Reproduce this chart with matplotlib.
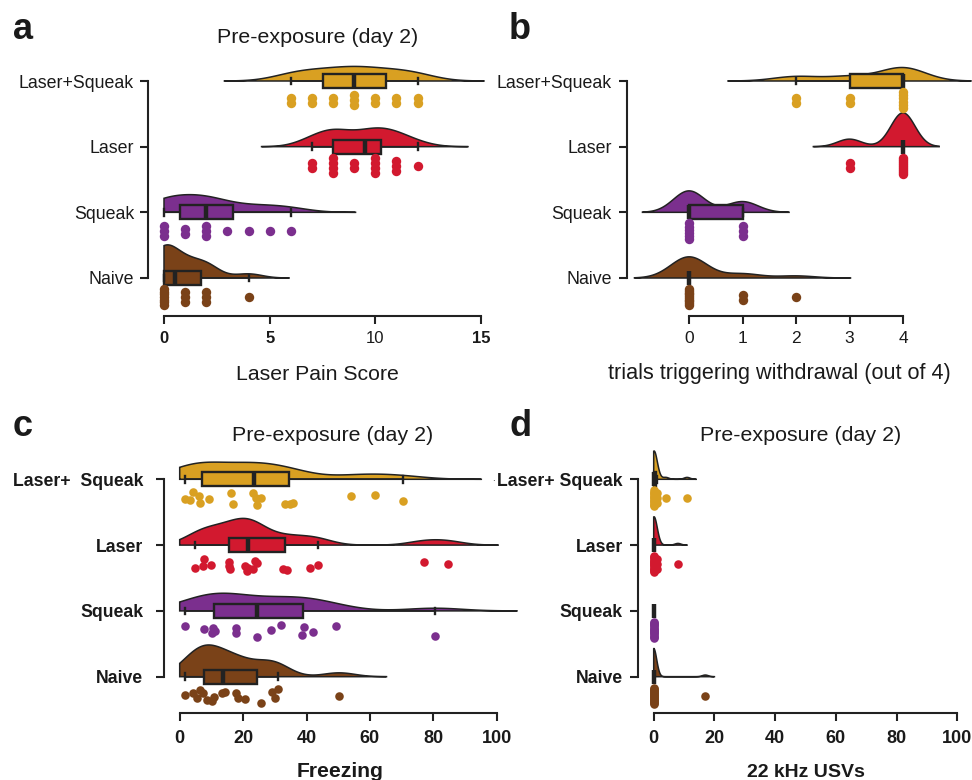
import numpy as np
import matplotlib.pyplot as plt

plt.rcParams['font.family'] = ['Liberation Sans', 'DejaVu Sans']

W, H = 972, 780
EDGE = '#222222'
INK = '#1a1a1a'

# groups bottom -> top
LABELS_AB = ['Naive', 'Squeak', 'Laser', 'Laser+Squeak']
LABELS_C = ['Naive', 'Squeak', 'Laser', 'Laser+  Squeak']
LABELS_D = ['Naive', 'Squeak', 'Laser', 'Laser+ Squeak']
COLORS = ['#7a4218', '#7b2f8e', '#d2192f', '#d9a022']

# a: laser pain score
pain_naive = [0, 0, 0, 0, 0, 0, 0, 1, 1, 1, 2, 2, 2, 4]
pain_squeak = [0, 0, 0, 1, 1, 2, 2, 2, 3, 4, 5, 6]
pain_laser = [7, 7, 8, 8, 8, 8, 9, 9, 10, 10, 10, 10, 11, 11, 11, 12]
pain_ls = [6, 6, 7, 7, 8, 8, 9, 9, 9, 10, 10, 11, 11, 12, 12]

# b: trials triggering withdrawal (out of 4)
wd_naive = [0, 0, 0, 0, 0, 0, 0, 0, 0, 0, 1, 1, 2]
wd_squeak = [0, 0, 0, 0, 0, 0, 1, 1, 1]
wd_laser = [3, 3, 4, 4, 4, 4, 4, 4, 4, 4, 4]
wd_ls = [2, 2, 3, 3, 4, 4, 4, 4, 4, 4]

# c: freezing (%)
frz_naive = [1.7, 4.3, 5.4, 6.4, 7.5, 8.5, 10.1, 10.8, 13.2, 14.3, 17.7, 18.5,
             20.6, 25.5, 29.0, 31.1, 30.1, 50.3]
frz_squeak = [1.7, 7.7, 10.1, 10.5, 11.2, 17.7, 17.8, 24.3, 28.8, 31.9, 39.2,
              38.6, 42.2, 49.3, 80.6]
frz_laser = [4.8, 7.8, 7.5, 9.8, 15.5, 15.8, 15.4, 21.1, 20.6, 21.4, 23.8, 24.3,
             23.2, 32.7, 33.9, 41.1, 43.7, 77.0, 84.5]
frz_ls = [1.7, 4.3, 3.4, 6.2, 6.4, 9.4, 16.1, 16.7, 23.0, 24.5, 25.5, 24.1,
          33.2, 34.8, 35.6, 53.9, 61.5, 70.5]

# vertical jitter of the freezing dots (px below the group line)
jit_naive = [18.3, 16.7, 21.7, 13.3, 16, 23.3, 24, 20.7, 16.7, 15, 16.7, 21.7,
             22.7, 26, 15, 12.7, 21.7, 19]
jit_squeak = [15, 18.3, 21.7, 17.3, 20, 17.3, 21.7, 25.7, 19, 14, 16.3, 24, 21,
              14.7, 24.7]
jit_laser = [22.7, 13.7, 21, 20, 17, 24.3, 21, 26, 21, 22.7, 16, 17.7, 23.7,
             24.3, 25, 23.3, 20, 17.3, 19.3]
jit_ls = [19.7, 13, 20.7, 16.3, 24, 20, 13.3, 24.7, 14, 25.7, 18.3, 18.3, 24.3,
          24.3, 23.3, 16.7, 15.7, 21.3]

# d: 22 kHz USVs
usv_naive = [0, 0, 0, 0, 0, 0, 0, 0, 0, 0, 0, 0, 0, 0, 0, 0, 0, 17]
usv_squeak = [0, 0, 0, 0, 0, 0, 0, 0, 0, 0, 0, 0, 0, 0, 0]
usv_laser = [0, 0, 0, 0, 0, 0, 0, 0, 0, 0, 0, 0, 0, 0, 0, 1, 1, 1, 8]
usv_ls = [0, 0, 0, 0, 0, 0, 0, 0, 0, 0, 0, 0, 0, 1, 1, 1, 4, 11]


def frac(x, y):
    return x / W, 1 - y / H


def density(v, lo=None, bw=None, adjust=1.0):
    if bw is None:
        sd = v.std(ddof=1)
        q75, q25 = np.percentile(v, [75, 25])
        s = min(sd, (q75 - q25) / 1.34) or sd
        bw = 0.9 * s * len(v) ** -0.2 * adjust
    x0, x1 = v.min() - 3 * bw, v.max() + 3 * bw
    if lo is not None:
        x0 = max(x0, lo)
    xs = np.linspace(x0, x1, 500)
    z = (xs[:, None] - v[None, :]) / bw
    d = np.exp(-0.5 * z ** 2).sum(1) / (len(v) * bw * np.sqrt(2 * np.pi))
    return xs, d


def stack_offsets(v):
    off = np.zeros(len(v))
    for u in np.unique(v):
        idx = np.where(v == u)[0]
        k = len(idx)
        if k == 1:
            off[idx] = 19
        else:
            spread = min(5 * (k - 1), 16)
            off[idx] = 19 + spread * (np.arange(k) / (k - 1) - 0.5)
    return off


def make_ax(fig, left, right, top, bottom, px0, ppu, y3, y0, xmax):
    ax = fig.add_axes([left / W, 1 - bottom / H, (right - left) / W,
                       (bottom - top) / H])
    unit = (y0 - y3) / 3
    ax.set_xlim((left - px0) / ppu, (right - px0) / ppu)
    ax.set_ylim(-(bottom - y0) / unit, 3 + (y3 - top) / unit)
    for side in ['top', 'right']:
        ax.spines[side].set_visible(False)
    for side in ['left', 'bottom']:
        ax.spines[side].set_linewidth(1.5)
        ax.spines[side].set_color(EDGE)
    ax.spines['left'].set_bounds(0, 3)
    ax.spines['bottom'].set_bounds(0, xmax)
    ax.tick_params(length=6, width=1.5, color=EDGE, labelcolor=INK)
    ax.patch.set_alpha(0)
    return ax, unit


def raincloud(ax, unit, groups, scale=None, lo=None, bw=None, adjust=1.0,
              height=None, jitters=None, s=46):
    for i, vals in enumerate(groups):
        v = np.asarray(vals, float)
        col = COLORS[i]
        if v.std() > 0:
            xs, d = density(v, lo, bw, adjust)
            h = d / d.max() * height if height else d * scale
            ax.fill(np.r_[xs, xs[::-1]], np.r_[i + h, np.full(len(xs), i)],
                    fc=col, ec=EDGE, lw=1.1, zorder=2, clip_on=False)
        off = np.asarray(jitters[i]) if jitters else stack_offsets(v)
        ax.scatter(v, i - off / unit, s=s, color=col, lw=0, zorder=4,
                   clip_on=False)
    bp = ax.boxplot(groups, positions=range(4), orientation='horizontal',
                    widths=0.21, patch_artist=True, showfliers=False,
                    capwidths=0.1, manage_ticks=False, zorder=3,
                    boxprops=dict(edgecolor=EDGE, linewidth=1.7),
                    medianprops=dict(color=EDGE, linewidth=3.2,
                                     solid_capstyle='butt'),
                    whiskerprops=dict(color=EDGE, linewidth=1.2),
                    capprops=dict(color=EDGE, linewidth=1.7))
    for patch, col in zip(bp['boxes'], COLORS):
        patch.set_facecolor(col)
        patch.set_clip_on(False)


fig = plt.figure(figsize=(W / 100, H / 100), dpi=100)

# ---- a
ax, u = make_ax(fig, 148, 490, 50, 316, 164, (481 - 164) / 15, 81, 278, 15)
raincloud(ax, u, [pain_naive, pain_squeak, pain_laser, pain_ls], scale=1.40, lo=0)
ax.set_yticks(range(4), LABELS_AB, fontsize=12.8)
ax.set_xticks([0, 5, 10, 15], ['0', '5', '10', '15'], fontsize=12)
for lab, wt in zip(ax.get_xticklabels(), ['bold', 'bold', 'normal', 'bold']):
    lab.set_fontweight(wt)
ax.tick_params(axis='y', pad=4)
ax.tick_params(axis='x', pad=5)

# ---- b
ax, u = make_ax(fig, 627, 962, 50, 316, 689, (903 - 689) / 4, 81, 278, 4)
raincloud(ax, u, [wd_naive, wd_squeak, wd_laser, wd_ls], scale=0.356)
ax.set_yticks(range(4), LABELS_AB, fontsize=12.8)
ax.set_xticks(range(5), [str(t) for t in range(5)], fontsize=12.5)
ax.tick_params(axis='y', pad=5)
ax.tick_params(axis='x', pad=5)

# ---- c
ax, u = make_ax(fig, 164, 500, 448, 713, 179.7, 3.17, 479.3, 676.7, 100)
raincloud(ax, u, [frz_naive, frz_squeak, frz_laser, frz_ls], scale=13.2, lo=0,
          adjust=0.8, jitters=[jit_naive, jit_squeak, jit_laser, jit_ls], s=38)
ax.set_yticks(range(4), LABELS_C, fontsize=12.7, fontweight='bold')
ax.set_xticks(range(0, 101, 20), [str(t) for t in range(0, 101, 20)],
              fontsize=13, fontweight='bold')
ax.tick_params(axis='y', pad=9)
ax.tick_params(axis='x', pad=6)

# ---- d
ax, u = make_ax(fig, 638, 965, 448, 713, 653.7, 3.036, 479.3, 676.7, 100)
raincloud(ax, u, [usv_naive, usv_squeak, usv_laser, usv_ls], lo=0, bw=1.0,
          height=0.43, s=38)
ax.set_yticks(range(4), LABELS_D, fontsize=12.7, fontweight='bold')
ax.set_xticks(range(0, 101, 20), [str(t) for t in range(0, 101, 20)],
              fontsize=13, fontweight='bold')
ax.tick_params(axis='y', pad=5)
ax.tick_params(axis='x', pad=6)

# ---- texts
for x, y, s in [(13, 39, 'a'), (509, 39, 'b'), (13, 436, 'c'), (509, 436, 'd')]:
    fig.text(*frac(x, y), s, fontsize=26, fontweight='bold', color=INK,
             ha='left', va='baseline')
for x, y in [(317.5, 43), (332.5, 441), (800.5, 441)]:
    fig.text(*frac(x, y), 'Pre-exposure (day 2)', fontsize=15.4, color=INK,
             ha='center', va='baseline')
fig.text(*frac(317.5, 380), 'Laser Pain Score', fontsize=15.3, color=INK,
         ha='center', va='baseline')
fig.text(*frac(779.5, 379), 'trials triggering withdrawal (out of 4)',
         fontsize=15.6, color=INK, ha='center', va='baseline')
fig.text(*frac(340, 777), 'Freezing', fontsize=15.2, fontweight='bold',
         color=INK, ha='center', va='baseline')
fig.text(*frac(805.5, 777), '22 kHz USVs', fontsize=14, fontweight='bold',
         color=INK, ha='center', va='baseline')
fig.text(*frac(493, 481), '.', fontsize=7, color=INK, ha='center', va='baseline')

fig.savefig('out.png', dpi=100, facecolor='white')
